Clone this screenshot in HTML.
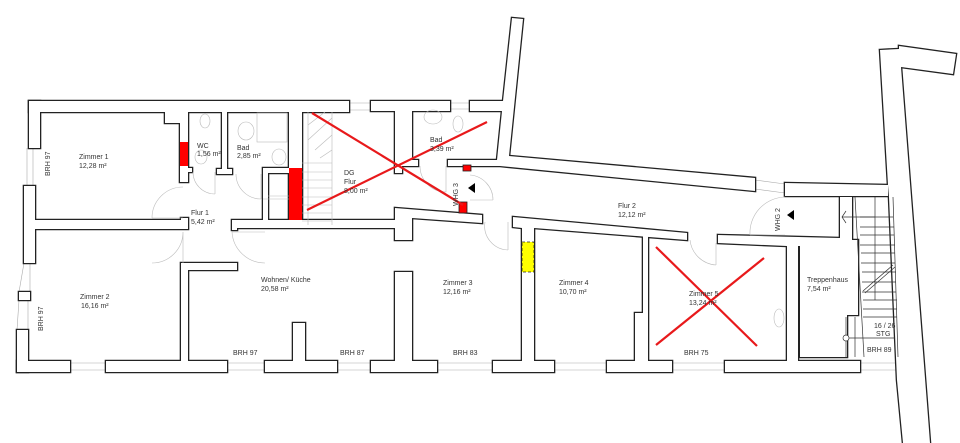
<!DOCTYPE html>
<html><head><meta charset="utf-8"><style>
html,body{margin:0;padding:0;background:#fff;}
svg{display:block;}
text{font-family:"Liberation Sans",sans-serif;font-size:7px;fill:#333;}
</style></head><body>
<svg width="960" height="443" viewBox="0 0 960 443" xmlns="http://www.w3.org/2000/svg">
<defs>
<g id="walls">
<!-- top walls -->
<polygon points="29,101 349,101 349,112 29,112"/>
<polygon points="371,101 450,101 450,111 371,111"/>
<polygon points="470,101 503,101 512,18 523,19 509,156 755,178 755,191 500,166 448,166 448,160 497,160 502,111 470,111"/>
<polygon points="785,183 888,185 888,196 785,196"/>
<polygon points="880,50 899,49 899,46 956,54 953,74 901,67 930,443 903,443 897,380 889,197 888,185"/>
<!-- left outer -->
<polygon points="29,101 40,101 40,148 29,148"/>
<polygon points="24,186 35,186 35,263 24,263"/>
<polygon points="19,292 30,292 30,300 19,300"/>
<polygon points="17,330 28,330 28,372 17,372"/>
<!-- bottom -->
<polygon points="17,361 70,361 70,372 17,372"/>
<polygon points="106,361 227,361 227,372 106,372"/>
<polygon points="265,361 337,361 337,372 265,372"/>
<polygon points="371,361 437,361 437,372 371,372"/>
<polygon points="493,361 554,361 554,372 493,372"/>
<polygon points="607,361 672,361 672,372 607,372"/>
<polygon points="725,361 860,361 860,372 725,372"/>
<!-- interior -->
<polygon points="35,220 181,220 181,218 188,218 188,229 35,229 35,227"/>
<polygon points="165,112 188,112 188,168 192,168 192,172 188,172 188,182 180,182 180,123 165,123"/>
<polygon points="222,112 227,112 227,169 232,169 232,174 217,174 217,169 222,169"/>
<polygon points="289,112 302,112 302,220 289,220"/>
<polygon points="263,168 289,168 289,173 268,173 268,220 263,220"/>
<polygon points="232,220 395,220 395,208 482,215 482,223 412,218 412,240 395,240 395,228 237,228 237,230 232,230"/>
<polygon points="395,111 412,111 412,160 418,160 418,166 402,166 402,173 395,173"/>
<polygon points="181,263 237,263 237,270 188,270 188,361 181,361"/>
<polygon points="293,323 305,323 305,361 293,361"/>
<polygon points="395,272 412,272 412,361 395,361"/>
<polygon points="513,217 687,233 687,240 534,228 534,361 522,361 522,228 513,227"/>
<polygon points="643,236 648,236 648,361 635,361 635,313 643,313"/>
<polygon points="718,235 840,238 840,197 852,197 852,240 858,240 858,315 847,315 847,357 800,357 800,246 798,246 798,361 787,361 787,246 718,243"/>
</g>
</defs>
<rect width="960" height="443" fill="#fff"/>
<!-- windows -->
<g stroke="#aaa" stroke-width="0.6" fill="none">
<path d="M349,103H371M349,110H371M450,103H470M450,109H470M755,180L785,184M755,189L785,193"/>
<path d="M27,148V186M33,148V186M24,263L19,292M30,263L30,292M19,300L17,330M28,300L28,330"/>
<path d="M70,363H106M70,370H106M227,363H265M227,370H265M337,363H371M337,370H371M437,363H493M437,370H493M554,363H607M554,370H607M672,363H725M672,370H725M860,363H898M860,370H898"/>
</g>
<use href="#walls" fill="#222" stroke="#222" stroke-width="2.6" stroke-linejoin="miter"/>
<use href="#walls" fill="#fff" stroke="none"/>
<!-- stairs DG -->
<g stroke="#bbb" stroke-width="0.6" fill="none">
<path d="M308,112V225M332,112V225M302,163H332M302,172H332M302,180H332M302,188H332M302,197H332M302,205H332M302,213H332M302,221H332"/>
<path d="M308,125L325,112M308,140L332,118M315,150L332,135M320,158L332,150"/>
<path d="M263,199H289M268,196H289"/>
<!-- fixtures -->
<rect x="257" y="113" width="30" height="29"/>
<ellipse cx="246" cy="131" rx="8" ry="9"/>
<ellipse cx="279" cy="157" rx="7" ry="8"/>
<ellipse cx="205" cy="121" rx="5" ry="7"/>
<ellipse cx="201" cy="157" rx="6" ry="7"/>
<ellipse cx="433" cy="117" rx="9" ry="7"/>
<ellipse cx="458" cy="124" rx="5" ry="8"/>
<ellipse cx="779" cy="318" rx="5" ry="9"/>
<!-- doors -->
<path d="M183,187A31,31 0 0 0 152,218M152,218H183"/>
<path d="M183,232A31,31 0 0 1 152,263M183,232V263"/>
<path d="M232,232A33,33 0 0 0 265,263M232,232H265"/>
<path d="M193,172A22,22 0 0 0 215,194M215,172V194"/>
<path d="M236,174A25,25 0 0 0 261,199M261,174V199"/>
<path d="M420,166A26,26 0 0 0 446,192M446,166V192"/>
<path d="M470,175A25,25 0 0 1 493,200M470,200H493"/>
<path d="M485,222A24,24 0 0 0 508,250M508,222V250"/>
<path d="M690,240A28,28 0 0 0 716,265M716,243V265"/>
<path d="M785,197A36,36 0 0 0 750,235M750,235H785"/>
</g>
<!-- staircase right -->
<g stroke="#333" stroke-width="0.7" fill="none">
<path d="M855,197L864,357M893,197L898,357M875,197V300"/>
<path d="M860,217H893M860,227H894M860,235H894M860,245H895M861,253H895M861,263H895M862,272H896M862,282H896M862,292H896M863,300H897M863,309H897M863,317H897"/>
<path d="M863,291L893,265M865,293L895,267"/>
<path d="M846,317V357M855,317V357M846,211L842,217L846,223M842,217H875"/>
<path d="M849,338H895"/>
<circle cx="846" cy="338" r="3" fill="#fff"/>
</g>
<!-- red / yellow blocks -->
<rect x="180" y="142" width="8" height="24" fill="#f00"/>
<rect x="289" y="168" width="13" height="52" fill="#f00"/>
<rect x="463" y="165" width="8" height="6" fill="#f00" stroke="#222" stroke-width="0.8"/>
<rect x="459" y="202" width="8" height="11" fill="#f00" stroke="#222" stroke-width="0.8"/>
<rect x="522" y="242" width="12" height="30" fill="#ff0" stroke="#222" stroke-width="0.8" stroke-dasharray="3,2"/>
<!-- triangles -->
<polygon points="468,188 475,183 475,193" fill="#000"/>
<polygon points="787,215 794,210 794,220" fill="#000"/>
<!-- red X -->
<g stroke="#e8191b" stroke-width="2.2">
<line x1="312" y1="113" x2="463" y2="205"/>
<line x1="307" y1="210" x2="487" y2="122"/>
<line x1="656" y1="247" x2="757" y2="346"/>
<line x1="764" y1="258" x2="656" y2="345"/>
</g>
<!-- labels -->
<text x="79" y="159">Zimmer 1</text><text x="79" y="168">12,28 m²</text>
<text x="197" y="148">WC</text><text x="197" y="156">1,56 m²</text>
<text x="237" y="150">Bad</text><text x="237" y="158">2,85 m²</text>
<text x="344" y="175">DG</text><text x="344" y="184">Flur</text><text x="344" y="193">8,00 m²</text>
<text x="430" y="142">Bad</text><text x="430" y="151">3,39 m²</text>
<text x="191" y="215">Flur 1</text><text x="191" y="224">5,42 m²</text>
<text x="261" y="282">Wohnen/ Küche</text><text x="261" y="291">20,58 m²</text>
<text x="443" y="285">Zimmer 3</text><text x="443" y="294">12,16 m²</text>
<text x="80" y="299">Zimmer 2</text><text x="81" y="308">16,16 m²</text>
<text x="233" y="355">BRH 97</text><text x="340" y="355">BRH 87</text><text x="453" y="355">BRH 83</text>
<text x="618" y="208">Flur 2</text><text x="618" y="217">12,12 m²</text>
<text x="559" y="285">Zimmer 4</text><text x="559" y="294">10,70 m²</text>
<text x="689" y="296">Zimmer 5</text><text x="689" y="305">13,24 m²</text>
<text x="807" y="282">Treppenhaus</text><text x="807" y="291">7,54 m²</text>
<text x="874" y="328">16 / 26</text><text x="876" y="336">STG</text>
<text x="867" y="352">BRH 89</text><text x="684" y="355">BRH 75</text>
<text transform="translate(50,176) rotate(-90)">BRH 97</text>
<text transform="translate(43,331) rotate(-90)">BRH 97</text>
<text transform="translate(458,206) rotate(-90)">WHG 3</text>
<text transform="translate(780,231) rotate(-90)">WHG 2</text>
</svg>
</body></html>
